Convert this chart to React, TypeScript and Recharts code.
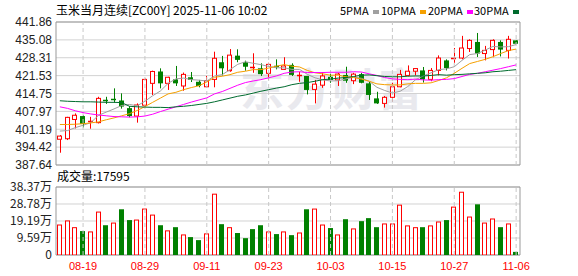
import React from "react";
import {
  ComposedChart,
  Bar,
  Line,
  XAxis,
  YAxis,
  CartesianGrid,
  ReferenceLine,
  ReferenceArea,
} from "recharts";

const dates = [
  "08-14", "08-15", "08-18", "08-19", "08-20", "08-21", "08-22", "08-25", "08-26", "08-27",
  "08-28", "08-29", "09-02", "09-03", "09-04", "09-05", "09-08", "09-09", "09-10", "09-11",
  "09-12", "09-15", "09-16", "09-17", "09-18", "09-19", "09-22", "09-23", "09-24", "09-25",
  "09-26", "09-29", "09-30", "10-01", "10-02", "10-03", "10-06", "10-07", "10-08", "10-09",
  "10-10", "10-13", "10-14", "10-15", "10-16", "10-17", "10-20", "10-21", "10-22", "10-23",
  "10-24", "10-27", "10-28", "10-29", "10-30", "10-31", "11-03", "11-04", "11-05", "11-06",
];

const opens = [
  397.4, 397.6, 404.9, 406.2, 403.9, 403.7, 412.1, 412.8, 412.1, 409.2,
  406.2, 410.3, 418.6, 423.1, 418.6, 420.1, 417.6, 420.9, 419.2, 417.3,
  420.1, 426.6, 423.4, 429.1, 426.6, 424.6, 424.3, 422.4, 425.0, 423.9,
  425.6, 421.7, 421.4, 416.3, 417.9, 421.1, 419.9, 421.8, 419.6, 422.1,
  418.6, 412.9, 411.0, 413.3, 417.3, 421.6, 423.2, 423.5, 420.1, 423.5,
  427.3, 427.7, 428.2, 431.8, 434.3, 429.9, 431.4, 434.3, 431.1, 434.9,
];
const highs = [
  399.0, 405.9, 407.2, 406.5, 405.9, 413.5, 413.5, 416.7, 414.8, 410.0,
  411.0, 420.4, 423.4, 424.3, 421.1, 425.2, 422.7, 422.9, 419.9, 421.4,
  430.6, 429.0, 431.6, 431.5, 427.2, 430.0, 426.2, 426.4, 427.7, 428.5,
  426.2, 423.0, 421.4, 419.9, 422.8, 423.0, 422.6, 424.9, 422.6, 422.6,
  419.2, 415.4, 413.8, 418.8, 423.7, 425.4, 424.2, 424.8, 424.4, 429.2,
  427.7, 432.0, 436.6, 435.3, 437.7, 432.8, 435.3, 434.9, 436.6, 434.9,
];
const lows = [
  392.3, 397.1, 401.5, 401.9, 401.4, 403.4, 410.8, 411.3, 409.0, 405.7,
  403.7, 410.0, 414.2, 416.7, 416.1, 417.6, 415.8, 419.1, 417.1, 417.1,
  417.1, 421.6, 423.0, 426.6, 423.4, 422.6, 421.4, 419.9, 423.9, 423.7,
  421.4, 419.2, 414.4, 411.0, 416.9, 418.8, 417.6, 418.8, 418.3, 418.6,
  412.3, 410.8, 409.4, 411.6, 417.1, 421.3, 421.6, 418.9, 419.4, 421.6,
  423.5, 426.4, 427.7, 430.5, 428.6, 427.3, 428.5, 428.8, 428.0, 433.6,
];
const closes = [
  398.6, 405.7, 406.5, 403.2, 404.4, 412.9, 411.6, 412.4, 409.8, 406.2,
  410.4, 420.1, 423.1, 418.6, 420.9, 418.6, 422.0, 419.9, 417.6, 419.6,
  428.1, 424.3, 429.3, 427.5, 424.9, 424.8, 422.1, 425.8, 424.8, 425.2,
  421.8, 421.9, 416.1, 418.3, 421.4, 419.9, 422.1, 419.6, 422.1, 418.8,
  414.2, 411.0, 413.3, 417.3, 422.0, 423.2, 424.2, 420.1, 423.5, 428.2,
  424.4, 428.2, 432.0, 434.9, 429.9, 431.1, 434.9, 431.4, 435.3, 433.6,
];

// 万手
const volumes = [
  17.2, 19.5, 15.7, 13.5, 13.3, 24.5, 16.8, 18.3, 25.8, 19.7,
  20.0, 26.2, 22.8, 16.8, 13.9, 15.7, 11.6, 10.1, 8.4, 12.2,
  34.6, 17.4, 15.7, 12.4, 9.5, 14.6, 16.8, 13.3, 11.8, 13.3,
  11.2, 12.7, 25.8, 26.2, 17.2, 15.2, 11.6, 20.2, 15.0, 19.1,
  20.8, 15.7, 17.8, 17.8, 28.4, 16.7, 15.7, 15.7, 16.7, 18.9,
  19.7, 27.3, 35.7, 21.7, 28.6, 18.3, 20.6, 15.7, 17.8, 1.76,
];

const ma5 = [
  400.5, 400.7, 401.8, 402.7, 403.7, 406.5, 407.7, 408.9, 410.2, 410.6,
  410.1, 411.8, 413.9, 415.7, 418.6, 420.3, 420.6, 420.0, 419.8, 419.5,
  421.4, 421.9, 423.8, 425.8, 426.8, 426.2, 425.7, 425.0, 424.5, 424.5,
  423.9, 423.9, 422.0, 420.7, 419.9, 419.5, 419.6, 420.3, 421.0, 420.5,
  419.4, 417.1, 415.9, 414.9, 415.6, 417.4, 420.0, 421.4, 422.6, 423.8,
  424.1, 424.9, 427.3, 429.5, 429.9, 431.2, 432.6, 432.4, 432.5, 433.3,
];
const ma10 = [
  403.0, 403.0, 403.1, 403.3, 403.6, 404.0, 404.8, 405.5, 406.3, 407.1,
  408.3, 409.8, 411.4, 413.0, 414.6, 415.2, 416.2, 417.0, 417.7, 419.1,
  420.9, 421.3, 421.9, 422.8, 423.2, 423.8, 423.8, 424.4, 425.1, 425.7,
  425.1, 424.8, 423.5, 422.6, 422.2, 421.7, 421.7, 421.1, 420.8, 420.2,
  419.4, 418.4, 418.1, 418.0, 418.0, 418.4, 418.6, 418.6, 418.8, 419.7,
  420.7, 422.4, 424.3, 426.1, 426.9, 427.7, 428.7, 429.9, 431.0, 431.6,
];
const ma20 = [
  409.7, 409.1, 408.2, 407.5, 407.0, 406.6, 406.3, 406.0, 405.9, 405.8,
  405.9, 406.2, 406.9, 407.9, 408.8, 409.7, 410.6, 411.5, 412.3, 413.1,
  414.6, 415.5, 416.7, 417.9, 418.9, 419.5, 420.0, 420.7, 421.4, 422.4,
  422.9, 423.0, 422.7, 422.7, 422.7, 422.8, 422.8, 422.8, 423.0, 422.9,
  422.2, 421.6, 420.8, 420.3, 420.1, 420.0, 420.2, 419.9, 419.8, 420.0,
  420.1, 420.4, 421.2, 422.0, 422.4, 423.0, 423.6, 424.2, 424.9, 425.6,
];
const ma30 = [
  412.0, 411.8, 411.7, 411.6, 411.6, 411.5, 411.4, 411.4, 411.3, 409.9,
  409.7, 409.6, 409.5, 409.5, 409.4, 409.7, 409.9, 410.2, 410.6, 411.0,
  411.6, 412.3, 413.0, 413.7, 414.2, 414.9, 415.6, 416.2, 416.8, 417.3,
  418.1, 418.6, 418.9, 419.4, 420.0, 420.2, 420.6, 420.8, 421.2, 421.7,
  421.8, 421.5, 421.2, 421.1, 421.1, 421.3, 421.4, 421.4, 421.6, 421.9,
  421.7, 421.9, 422.0, 422.2, 422.4, 422.6, 423.0, 423.2, 423.5, 423.8,
];

const priceTicks = [387.64, 394.42, 401.19, 407.97, 414.75, 421.53, 428.31, 435.08, 441.86];
const volTicks = [0, 9.59, 19.19, 28.78, 38.37];
const labelDates = ["08-19", "08-29", "09-11", "09-23", "10-03", "10-15", "10-27", "11-06"];

const RED = "#ff0000";
const GREEN = "#008000";
const FRAME = "#999999";
const GRID = "#d2d2d2";
const MA_COLORS = ["#a0a0a0", "#f5a000", "#ff00ff", "#006b2e"];
const FONT = "'Liberation Sans', Arial, sans-serif";
const CJK = "'Noto Sans CJK SC', 'Liberation Sans', sans-serif";

const priceData = dates.map((d, i) => ({
  date: d,
  range: [lows[i], highs[i]],
  open: opens[i],
  close: closes[i],
  high: highs[i],
  low: lows[i],
  ma5: ma5[i],
  ma10: ma10[i],
  ma20: ma20[i],
  ma30: ma30[i],
}));

const volData = dates.map((d, i) => ({
  date: d,
  vol: volumes[i],
  up: i === 0 ? closes[i] >= opens[i] : closes[i] >= closes[i - 1],
}));

const Candle = (props: any) => {
  const { x, y, width, height, payload } = props;
  if (!payload) return null;
  const { open, close, high, low } = payload;
  const top = Math.min(y, y + height);
  const h = Math.abs(height);
  const per = h / (high - low || 1);
  const yOf = (v: number) => top + (high - v) * per;
  const up = close >= open;
  const color = up ? RED : GREEN;
  const cx = Math.round(x + width / 2) + 0.5;
  const bTop = yOf(Math.max(open, close));
  const bBot = yOf(Math.min(open, close));
  const left = Math.round(x + width / 2 - 2.5);
  return (
    <g>
      <line x1={cx} x2={cx} y1={top} y2={top + h} stroke={color} strokeWidth={1} />
      {bBot - bTop < 1.5 ? (
        <line x1={left} x2={left + 5} y1={Math.round(bTop) + 0.5} y2={Math.round(bTop) + 0.5} stroke={color} strokeWidth={1.5} />
      ) : up ? (
        <rect x={left + 0.5} y={bTop} width={4} height={bBot - bTop} fill="#fff" stroke={color} strokeWidth={1} />
      ) : (
        <rect x={left} y={bTop} width={5} height={bBot - bTop} fill={color} />
      )}
    </g>
  );
};

const VolBar = (props: any) => {
  const { x, y, width, height, payload } = props;
  if (!payload) return null;
  const top = Math.min(y, y + height);
  const h = Math.abs(height);
  const left = Math.round(x + width / 2 - 2.5);
  if (payload.up) {
    return <rect x={left + 0.5} y={top + 0.5} width={4} height={Math.max(h - 0.5, 0)} fill="#fff" stroke={RED} strokeWidth={1} />;
  }
  return <rect x={left} y={top} width={5} height={h} fill={GREEN} />;
};

const legendItems = [
  { label: "5PMA", x: 340, color: MA_COLORS[0] },
  { label: "10PMA", x: 381, color: MA_COLORS[1] },
  { label: "20PMA", x: 428, color: MA_COLORS[2] },
  { label: "30PMA", x: 474, color: MA_COLORS[3] },
];

const App = () => {
  return (
    <div style={{ position: "absolute", left: 0, top: 0, width: 578, height: 276, background: "#fff", overflow: "hidden" }}>
      <div
        style={{
          position: "absolute",
          left: 240,
          top: 62,
          fontFamily: CJK,
          fontSize: 44,
          fontWeight: 700,
          color: "#e9e9ee",
          letterSpacing: 2,
          lineHeight: "50px",
        }}
      >
        东方财富
      </div>
      <div style={{ position: "absolute", left: 56, top: 3, fontFamily: CJK, fontSize: 12, lineHeight: "14px", color: "#000", whiteSpace: "nowrap" }}>
        玉米当月连续[ZC00Y] 2025-11-06 10:02
      </div>
      {legendItems.map((it) => (
        <div key={it.label} style={{ position: "absolute", left: it.x, top: 3, fontFamily: CJK, fontSize: 11, lineHeight: "14px", color: "#000", whiteSpace: "nowrap" }}>
          {it.label}
          <span style={{ display: "inline-block", width: 6, height: 4, background: it.color, marginLeft: 4, verticalAlign: "middle" }} />
        </div>
      ))}
      <div style={{ position: "absolute", left: 0, top: 0 }}>
        <ComposedChart width={578} height={176} data={priceData} margin={{ top: 22, right: 58, bottom: 11, left: 0 }} barSize={5}>
          <CartesianGrid horizontal vertical={false} stroke={GRID} />
          <XAxis dataKey="date" hide />
          <YAxis
            domain={[priceTicks[0], priceTicks[priceTicks.length - 1]]}
            ticks={priceTicks}
            width={56}
            axisLine={false}
            tickLine={false}
            tickSize={2}
            tickMargin={2}
            allowDataOverflow
            interval={0}
            tick={{ fontSize: 12, fill: "#222", fontFamily: FONT }}
            tickFormatter={(v: number) => v.toFixed(2)}
          />
          {labelDates.map((d) => (
            <ReferenceLine key={d} x={d} stroke="#c8c8c8" strokeDasharray="4 3" />
          ))}
          <ReferenceArea y1={priceTicks[0]} y2={priceTicks[priceTicks.length - 1]} fill="none" stroke={FRAME} strokeWidth={1} fillOpacity={0} />
          <Bar dataKey="range" shape={Candle} isAnimationActive={false} />
          <Line dataKey="ma5" stroke={MA_COLORS[0]} strokeWidth={1} dot={false} isAnimationActive={false} />
          <Line dataKey="ma10" stroke={MA_COLORS[1]} strokeWidth={1} dot={false} isAnimationActive={false} />
          <Line dataKey="ma20" stroke={MA_COLORS[2]} strokeWidth={1} dot={false} isAnimationActive={false} />
          <Line dataKey="ma30" stroke={MA_COLORS[3]} strokeWidth={1} dot={false} isAnimationActive={false} />
        </ComposedChart>
      </div>
      <div style={{ position: "absolute", left: 57, top: 169, fontFamily: CJK, fontSize: 12, lineHeight: "14px", color: "#000", whiteSpace: "nowrap" }}>
        成交量:17595
      </div>
      <div style={{ position: "absolute", left: 0, top: 165 }}>
        <ComposedChart width={578} height={111} data={volData} margin={{ top: 22, right: 58, bottom: 0, left: 0 }} barSize={5}>
          <CartesianGrid horizontal vertical={false} stroke={GRID} />
          <XAxis
            dataKey="date"
            ticks={labelDates}
            interval={0}
            height={21}
            axisLine={false}
            tickLine={false}
            tickSize={4}
            tickMargin={3}
            tick={{ fontSize: 11, fill: RED, fontFamily: FONT }}
          />
          <YAxis
            domain={[0, volTicks[volTicks.length - 1]]}
            ticks={volTicks}
            width={56}
            axisLine={false}
            tickLine={false}
            tickSize={2}
            tickMargin={2}
            allowDataOverflow
            interval={0}
            tick={{ fontSize: 12, fill: "#222", fontFamily: CJK }}
            tickFormatter={(v: number) => (v === 0 ? "0" : v.toFixed(2) + "万")}
          />
          {labelDates.map((d) => (
            <ReferenceLine key={d} x={d} stroke="#c8c8c8" strokeDasharray="4 3" />
          ))}
          <ReferenceArea y1={0} y2={volTicks[volTicks.length - 1]} fill="none" stroke={FRAME} strokeWidth={1} fillOpacity={0} />
          <Bar dataKey="vol" shape={VolBar} isAnimationActive={false} />
        </ComposedChart>
      </div>
    </div>
  );
};

export default App;
